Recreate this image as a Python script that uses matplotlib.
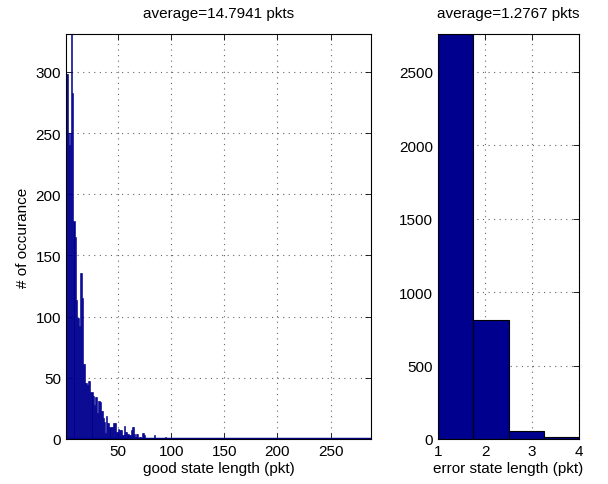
import numpy as np
import matplotlib
matplotlib.use('Agg')
import matplotlib.pyplot as plt

plt.rcParams['font.family'] = ['Liberation Sans', 'DejaVu Sans']

# good state lengths: counts for the first 85 bins
good_head = [298, 298, 250, 240, 250, 331, 283, 178, 165,
             114, 99, 99, 92, 136, 136, 115, 61, 61, 46,
             46, 44, 47, 47, 38, 38, 35, 28, 34, 34,
             21, 31, 31, 30, 23, 23, 17, 14, 5, 19,
             13, 13, 10, 10, 10, 13, 13, 13, 6, 6,
             8, 7, 7, 7, 3, 3, 11, 6, 6, 4,
             3, 3, 7, 10, 10, 4, 2, 4, 4, 1,
             2, 2, 0, 5, 5, 3, 0, 0, 1, 0,
             0, 1, 0, 0, 3, 1]
# bins further out that hold a single count
good_tail_bins = [94, 95, 109, 111, 123, 133, 137, 149, 158, 187,
                  212, 225, 227, 260, 288]
good_tail_counts = [2, 1, 1, 1, 1, 1, 1, 1, 1, 1,
                    1, 1, 1, 1, 1]
n_good_bins = 288
good_avg = 14.7941

# error state lengths
err_counts = [2757, 813, 57, 14]
err_avg = 1.2767

good_counts = np.zeros(n_good_bins)
good_counts[:len(good_head)] = good_head
for b, c in zip(good_tail_bins, good_tail_counts):
    good_counts[b - 1] = c

navy = '#00008f'

fig = plt.figure(figsize=(6.08, 4.85), dpi=100)
ax1 = fig.add_axes([0.1086, 0.0928, 0.5016, 0.835])
ax2 = fig.add_axes([0.7204, 0.0928, 0.2320, 0.835])

# left histogram
edges = np.linspace(1, n_good_bins, n_good_bins + 1)
ax1.bar(edges[:-1], good_counts, width=np.diff(edges), align='edge',
        color=navy, edgecolor=navy, linewidth=0.4)
# empty bins still leave their outline on the baseline
ax1.axhline(0, color=navy, linewidth=2.5, zorder=2.5)
ax1.set_xlim(1, n_good_bins)
ax1.set_ylim(0, max(good_counts))
ax1.set_xticks([50, 100, 150, 200, 250])
ax1.set_yticks(range(0, 301, 50))
ax1.set_xlabel('good state length (pkt)', labelpad=2)
ax1.set_ylabel('# of occurance', labelpad=4)
ax1.set_title('average=%.4f pkts' % good_avg, pad=12)

# right histogram
e_edges = np.linspace(1, 4, len(err_counts) + 1)
ax2.bar(e_edges[:-1], err_counts, width=np.diff(e_edges), align='edge',
        color=navy, edgecolor='black', linewidth=0.8)
ax2.set_xlim(1, 4)
ax2.set_ylim(0, max(err_counts))
ax2.set_xticks([1, 2, 3, 4])
ax2.set_yticks(range(0, 2501, 500))
ax2.set_xlabel('error state length (pkt)', labelpad=2)
ax2.set_title('average=%.4f pkts' % err_avg, pad=12)

for ax in (ax1, ax2):
    ax.set_axisbelow(True)
    ax.grid(True, linestyle=(0, (1, 4)), color='#666666', linewidth=0.8)
    ax.tick_params(direction='in', top=True, right=True, labelsize=11,
                   length=4, width=0.6)
    ax.xaxis.label.set_size(11)
    ax.yaxis.label.set_size(11)
    ax.title.set_size(11)
    for s in ax.spines.values():
        s.set_linewidth(0.8)
        s.set_zorder(3)

fig.savefig('out.png', dpi=100)
